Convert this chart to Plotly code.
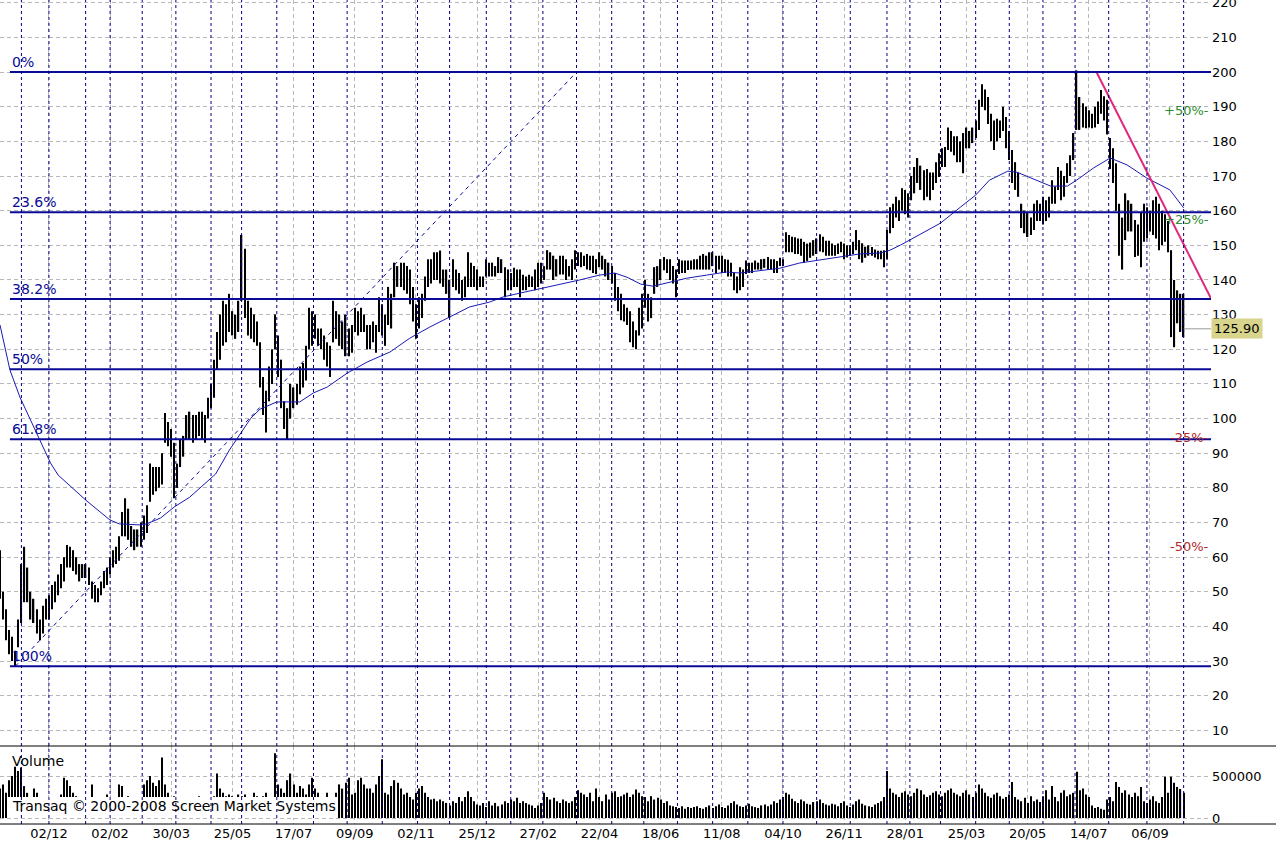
import plotly.graph_objects as go

# ---------------- data ----------------
tick_labels = ["02/12", "02/02", "30/03", "25/05", "17/07", "09/09", "02/11", "25/12", "27/02",
               "22/04", "18/06", "11/08", "04/10", "26/11", "28/01", "25/03", "20/05", "14/07", "06/09"]
FIRST_TICK_BAR = 32
TICK_STEP_BARS = 40
BARS_PER_SAMPLE = 2

month_start_bars = [14, 32, 56, 72, 93, 115, 138, 158, 181, 205, 227, 250, 273, 294, 318, 334, 355, 377,
                    400, 421, 443, 466, 489, 512, 534, 556, 580, 595, 615, 638, 660, 682, 703, 725, 750, 774]

high = [62, 50, 45, 39, 37, 33, 42, 58, 63, 57,
        50, 48, 45, 42, 46, 48, 49, 52, 53, 55,
        58, 60, 63.5, 63, 62, 60, 58, 58, 58, 57,
        53, 52, 51, 53, 56, 57, 60, 62, 63, 66,
        73, 77, 74, 69, 68, 68, 70, 72, 75, 87,
        86, 86, 86, 90, 101.6, 99, 97, 93, 87, 94,
        95, 101, 102, 101, 101, 102, 102, 101, 106, 110,
        117, 125, 130, 134, 133, 136, 131, 130, 134, 153,
        149, 134, 132, 130, 128, 122, 112, 108, 115, 120,
        130, 124, 117, 105, 103, 110, 109, 110, 115, 116,
        121, 132, 131, 130, 126, 126, 124, 122, 121, 134,
        131, 130, 128, 130, 126, 127, 132, 131, 132, 130,
        127, 127, 128, 127, 135, 133, 130, 138, 136, 145,
        144, 145, 145, 144, 143, 138, 133, 135, 136, 141,
        146, 146, 148, 148, 148.5, 143, 143, 140, 146, 143,
        142, 140, 141, 148, 145, 144, 143, 141, 141, 146,
        145, 145, 144, 146.6, 146, 143.7, 143, 142, 143.5, 143,
        143, 141.5, 141, 141.5, 141, 143, 145, 145, 144, 148.6,
        148, 147, 146, 147, 147, 146, 144, 146, 148.6, 148,
        148, 147, 147.5, 147, 147, 146, 148, 147, 146, 145,
        144, 142, 138, 136, 133, 132, 131, 128, 125.5, 132,
        136, 140, 136, 135, 143.7, 144, 146, 146.6, 146, 146,
        144, 143, 146, 145.6, 145.6, 145.6, 145.6, 146, 146, 147,
        147.5, 147, 148, 148, 147, 147, 147, 146, 145.8, 145,
        142, 141, 143.7, 143, 145.6, 145, 145, 145.6, 145, 146,
        146.1, 146.6, 146, 146, 145.5, 146.4, 146, 153.8, 153, 152.5,
        152.3, 152, 151.9, 151, 150.5, 150.8, 151.5, 152, 153.2, 152.5,
        151.3, 151.3, 150.5, 150, 150.5, 151, 150.5, 150, 150, 151,
        154.4, 151.5, 150.6, 149.6, 150, 149.5, 148.8, 148.4, 148.4, 148.6,
        154.4, 161, 162, 164, 163, 166.5, 166, 165, 170, 172.6,
        175.2, 173, 171.7, 172, 171, 171, 174, 176.6, 178, 178.4,
        184, 183, 181.5, 181.5, 180, 182.4, 184, 183, 184, 186,
        192, 196.5, 195, 192.8, 188, 186, 186.5, 186, 190, 187,
        183, 177.5, 174, 171, 162, 160, 159.3, 158, 162, 163,
        162, 164, 163, 164, 168.8, 167, 172.6, 171.5, 170, 173.7,
        176, 182.4, 200.5, 192.8, 191, 190, 189, 188, 190, 191.5,
        194.8, 193, 192, 181, 178, 173.7, 162, 158, 165, 163,
        162, 157.3, 156, 159.3, 162, 161, 160, 163, 164, 162,
        160, 159, 157, 148.6, 140, 137, 136, 136]

low = [48, 42, 36, 32, 30, 28.5, 34, 41, 47, 47,
       42, 41, 38, 36, 38, 42, 42, 45, 47, 49,
       51, 53, 57, 57, 56, 55, 53, 54, 54, 52,
       48, 47, 47, 49, 51, 52, 55, 57, 58, 59,
       66, 66, 65, 63, 62, 63, 63, 65, 67, 76,
       78, 79, 80, 81, 93, 92, 89, 77, 80, 86,
       89, 94, 94, 93, 94, 95, 94, 93, 100, 103,
       106, 114, 117, 121, 122, 125, 124, 123, 125, 134,
       129, 124, 123, 122, 121, 109, 101, 96, 105, 110,
       120, 112, 103, 97, 94, 100, 103, 104, 107, 109,
       111, 120, 121, 123, 121, 120, 117, 115, 112, 122,
       123, 121, 120, 118, 118, 119, 125, 124, 125, 125,
       120, 120, 122, 119, 125, 124, 121, 127, 126, 135,
       138, 138, 137, 136, 133, 128, 123, 126, 129, 134,
       138, 139, 140, 140, 139, 138, 136, 129, 138, 137,
       136, 134, 135, 138, 138, 138, 137, 138, 138, 141,
       141, 141, 141, 142, 142, 135, 137, 137, 138, 138,
       135, 137, 137, 138, 138, 137, 138, 139, 140, 143,
       143, 140, 141, 141.6, 141.6, 140, 141, 140, 143, 144,
       143.7, 144, 143, 142.8, 142, 141.7, 143.7, 143, 141, 140,
       139, 134, 131, 128.4, 128, 127, 122, 120.6, 120, 124,
       126, 132, 128, 129, 136, 138, 140, 142.8, 142, 140,
       139, 135, 141.7, 142, 142, 142.9, 143, 143, 143, 143,
       143, 143, 143, 144, 142, 143, 142, 142, 141, 141,
       137, 136.2, 137, 138, 141.7, 142, 142, 143, 143, 143,
       143.5, 143, 143, 142, 142, 144, 144, 148, 148, 148,
       147.5, 147.5, 147, 145, 145.5, 146.4, 147, 147.5, 148.2, 148,
       147, 147, 147, 147, 147.5, 148, 146, 146.5, 147, 147.5,
       148.6, 146, 145, 146.4, 147, 147, 146.5, 146, 146, 143.7,
       146, 153.5, 155, 158, 157, 160, 159, 158, 163, 165,
       168, 166, 163, 164, 163, 166, 168, 169.7, 172.6, 172.6,
       177.5, 177, 176, 174, 174, 170.8, 178, 178, 179.5, 181,
       183.3, 190, 189, 185, 180, 177.5, 180, 181, 183, 178,
       174.6, 168, 166, 164, 155, 153.5, 152.4, 153, 154.4, 157,
       157, 156, 157, 158, 162, 162, 166, 163, 164, 168,
       170, 174.6, 183.3, 183.3, 184, 183.8, 184, 183.8, 184, 185,
       188, 186, 182, 172, 168, 160, 147, 143, 151.5, 154,
       154, 146.6, 147, 143.7, 151, 152, 154, 153, 152, 148.6,
       150, 151, 148, 123.5, 120.6, 127.5, 125, 123.5]

volume_k = [350, 400, 300, 450, 500, 610, 560, 600, 380, 300,
            250, 350, 300, 250, 200, 180, 200, 150, 180, 220,
            280, 480, 450, 380, 300, 260, 200, 180, 150, 200,
            400, 180, 150, 200, 250, 280, 150, 200, 250, 400,
            380, 200, 260, 180, 220, 200, 250, 400, 450, 500,
            420, 380, 450, 720, 400, 300, 200, 260, 250, 180,
            150, 150, 180, 200, 250, 260, 150, 200, 180, 220,
            260, 530, 350, 300, 260, 280, 260, 200, 280, 260,
            280, 200, 250, 300, 260, 200, 260, 300, 250, 200,
            770, 400, 350, 300, 450, 530, 400, 300, 380, 350,
            280, 400, 480, 350, 300, 250, 250, 300, 220, 200,
            300, 400, 350, 420, 480, 280, 300, 450, 480, 400,
            350, 350, 300, 400, 500, 700, 300, 280, 380, 450,
            420, 350, 280, 300, 250, 220, 300, 350, 380, 300,
            250, 220, 230, 200, 220, 200, 180, 150, 200, 180,
            250, 200, 250, 320, 250, 200, 160, 150, 180, 130,
            200, 150, 180, 140, 160, 200, 180, 220, 200, 240,
            180, 200, 180, 160, 150, 120, 150, 180, 300, 250,
            220, 240, 200, 180, 220, 200, 180, 200, 250, 330,
            300, 280, 250, 300, 200, 350, 250, 200, 280, 220,
            300, 320, 250, 260, 280, 300, 250, 280, 340, 300,
            260, 250, 200, 260, 220, 240, 220, 180, 200, 150,
            140, 130, 120, 140, 110, 130, 120, 130, 140, 120,
            110, 130, 150, 120, 140, 160, 130, 120, 150, 180,
            200, 160, 140, 130, 150, 170, 140, 130, 120, 150,
            160, 140, 160, 200, 180, 220, 250, 300, 280, 230,
            200, 180, 220, 200, 170, 160, 190, 200, 220, 180,
            160, 150, 170, 160, 140, 180, 200, 150, 130, 160,
            200, 220, 170, 150, 140, 130, 160, 180, 200, 250,
            560, 350, 300, 280, 250, 300, 320, 280, 260, 300,
            350, 330, 280, 250, 270, 300, 320, 280, 260, 300,
            330, 350, 300, 280, 260, 300, 330, 280, 250, 300,
            400, 350, 300, 260, 240, 280, 300, 260, 230, 250,
            280, 430, 250, 220, 200, 240, 180, 260, 200, 220,
            190, 260, 330, 220, 380, 250, 200, 300, 330, 260,
            280, 300, 550, 330, 350, 280, 250, 150, 120, 130,
            110, 100, 220, 250, 200, 430, 370, 300, 330, 280,
            250, 300, 260, 370, 200, 180, 220, 260, 200, 180,
            250, 490, 300, 490, 420, 370, 345, 300]

last_close = 125.90

ma_bar = [0, 6.5, 13, 25, 33, 38, 56, 72, 78, 92, 96, 105, 114, 124, 131, 141, 150, 164, 170, 181,
          196, 205, 214, 227, 240, 255, 268, 281, 294, 307, 320, 329, 340, 353, 366, 379, 392, 402,
          410, 419, 427, 436, 449, 462, 475, 484, 497, 510, 523, 536, 549, 562, 576, 582, 589, 595,
          615, 628, 638, 647, 659, 665, 674, 687, 698, 704, 715, 726, 737, 750, 765, 774]
ma_value = [127, 114, 106.2, 94.7, 87.2, 83.7, 76.5, 70.7, 69.6, 69.3, 69.6, 71.3, 74.5, 77.3, 80, 84,
            90.9, 100.1, 102.7, 104.8, 104.8, 107.4, 109.1, 113.1, 116.3, 119.2, 123.2, 126.4, 129.3,
            132.2, 133.6, 135.1, 136.2, 137.4, 138.8, 140, 141.4, 142, 140.8, 138.8, 138.2, 139.1,
            140.5, 141.4, 142.3, 142, 142.8, 143.4, 144.9, 145.7, 146.6, 147.5, 147.8, 148.6, 150.1,
            151.5, 156.4, 161, 164.5, 168.8, 171.4, 171.1, 169.4, 167.1, 167.1, 168.8, 172.3, 175.2,
            173.2, 169.4, 166, 160.8]

fib_high = 200.0
fib_low = 28.5
fib_ratios = [0.0, 0.236, 0.382, 0.5, 0.618, 1.0]
fib_labels = ["0%", "23.6%", "38.2%", "50%", "61.8%", "100%"]

trend_bars = [10, 377]
trend_values = [28.5, 200.0]
resist_bars = [717, 792]
resist_values = [200.0, 134.6]

band_pcts = [50, 25, -25, -50]

# ---------------- layout constants ----------------
X_MAX = 791.9
PRICE_RANGE = [5.5, 220.8]
VOL_RANGE = [-71000, 857000]
SPLIT = 78 / 824
FIB_START = 6.5
NAVY = "#0A0A96"
MA_BLUE = "#1A1AB4"
GRID = "#B8B8B8"
FONT = "DejaVu Sans"

xs = [BARS_PER_SAMPLE * i for i in range(len(high))]
xv = [BARS_PER_SAMPLE * i for i in range(len(volume_k))]
ranges = [h - l for h, l in zip(high, low)]
vols = [v * 1000 for v in volume_k]
last_bar = xs[-1]

fig = go.Figure()

fig.add_trace(go.Bar(x=xs, y=ranges, base=low, width=0.85, marker=dict(color="black", line=dict(width=0)),
                     xaxis="x", yaxis="y", hoverinfo="skip"))
fig.add_trace(go.Scatter(x=ma_bar, y=ma_value, mode="lines", line=dict(color=MA_BLUE, width=1),
                         xaxis="x", yaxis="y", hoverinfo="skip"))
fig.add_trace(go.Scatter(x=trend_bars, y=trend_values, mode="lines",
                         line=dict(color=NAVY, width=1, dash="4px,4px"), xaxis="x", yaxis="y"))
fig.add_trace(go.Scatter(x=resist_bars, y=resist_values, mode="lines",
                         line=dict(color="#E0287C", width=2), xaxis="x", yaxis="y", cliponaxis=False))
fig.add_trace(go.Scatter(x=[last_bar, X_MAX], y=[last_close, last_close], mode="lines",
                         line=dict(color="#999999", width=1), xaxis="x", yaxis="y"))
fig.add_trace(go.Bar(x=xv, y=vols, width=0.75, marker=dict(color="black", line=dict(width=0)),
                     xaxis="x2", yaxis="y2", hoverinfo="skip"))

shapes = []
annotations = []

# Fibonacci levels
for r, lab in zip(fib_ratios, fib_labels):
    lvl = fib_high - r * (fib_high - fib_low)
    shapes.append(dict(type="line", xref="x", yref="y", x0=FIB_START, x1=X_MAX, y0=lvl, y1=lvl,
                       line=dict(color=NAVY, width=2), layer="above"))
    annotations.append(dict(x=FIB_START, y=lvl, xref="x", yref="y", text=lab, showarrow=False,
                            xanchor="left", yanchor="bottom", yshift=0,
                            font=dict(family=FONT, size=14, color=NAVY)))

# white box behind the copyright text
shapes.append(dict(type="rect", xref="paper", yref="paper", x0=8 / 1211, x1=337 / 1211,
                   y0=6 / 824, y1=27 / 824, fillcolor="white", line=dict(width=0), layer="above"))

# month separators
for b in month_start_bars:
    shapes.append(dict(type="line", xref="x", yref="paper", x0=b, x1=b, y0=0, y1=1,
                       line=dict(color="#000080", width=1, dash="3px,3px"), layer="above"))

# panel separator and bottom lines
for yy in (SPLIT, 0):
    shapes.append(dict(type="line", xref="paper", yref="paper", x0=0, x1=1276 / 1211, y0=yy, y1=yy,
                       line=dict(color="black", width=1), layer="above"))

# percent bands relative to last close
for p in band_pcts:
    col = "#2E8B2E" if p > 0 else "#B22828"
    annotations.append(dict(x=1, xref="paper", y=last_close * (1 + p / 100), yref="y",
                            text=f"{p:+d}%-", showarrow=False, xanchor="right", yanchor="middle",
                            font=dict(family=FONT, size=13, color=col)))

# last price label
annotations.append(dict(x=1, xref="paper", y=last_close, yref="y", text=f"{last_close:.2f}",
                        showarrow=False, xanchor="left", yanchor="middle", bgcolor="#D8D48C",
                        borderpad=2, font=dict(family=FONT, size=13, color="black")))

annotations.append(dict(x=FIB_START, xref="x", y=680000, yref="y2", text="Volume", showarrow=False,
                        xanchor="left", yanchor="middle", font=dict(family=FONT, size=14, color="black")))
annotations.append(dict(x=FIB_START, xref="x", y=140000, yref="y2",
                        text="Transaq \u00a9 2000-2008 Screen Market Systems", showarrow=False,
                        xanchor="left", yanchor="middle", font=dict(family=FONT, size=14, color="black")))

tickvals = [FIRST_TICK_BAR + TICK_STEP_BARS * k for k in range(len(tick_labels))] + [X_MAX - 0.3]
ticktext = tick_labels + [""]

axis_common = dict(range=[0, X_MAX], tickvals=tickvals, showgrid=True, gridcolor=GRID,
                   griddash="4px,3px", gridwidth=1, zeroline=False, showline=False, ticks="",
                   automargin=False)

fig.update_layout(
    width=1276, height=845,
    margin=dict(l=0, r=65, t=0, b=21, pad=0, autoexpand=False),
    paper_bgcolor="white", plot_bgcolor="white",
    showlegend=False, barmode="overlay", hovermode=False,
    xaxis=dict(domain=[0, 1], anchor="y", showticklabels=False, **axis_common),
    xaxis2=dict(domain=[0, 1], anchor="y2", matches="x", ticktext=ticktext, showticklabels=True,
                tickfont=dict(family=FONT, size=13, color="black"), **axis_common),
    yaxis=dict(domain=[SPLIT, 1], range=PRICE_RANGE, side="right", anchor="x",
               tickvals=list(range(10, 221, 10)), showgrid=True, gridcolor=GRID, griddash="4px,3px",
               zeroline=False, showline=False, ticks="", ticklabeloverflow="allow", automargin=False,
               tickfont=dict(family=FONT, size=13, color="black")),
    yaxis2=dict(domain=[0, SPLIT], range=VOL_RANGE, side="right", anchor="x2",
                tickvals=[0, 500000], ticktext=["0", "500000"], showgrid=True, gridcolor=GRID,
                griddash="4px,3px", zeroline=False, showline=False, ticks="", automargin=False,
                tickfont=dict(family=FONT, size=13, color="black")),
    shapes=shapes, annotations=annotations,
)

fig.write_html("out.html", config={"displayModeBar": False},
               post_script="document.body.style.margin='0px';")
